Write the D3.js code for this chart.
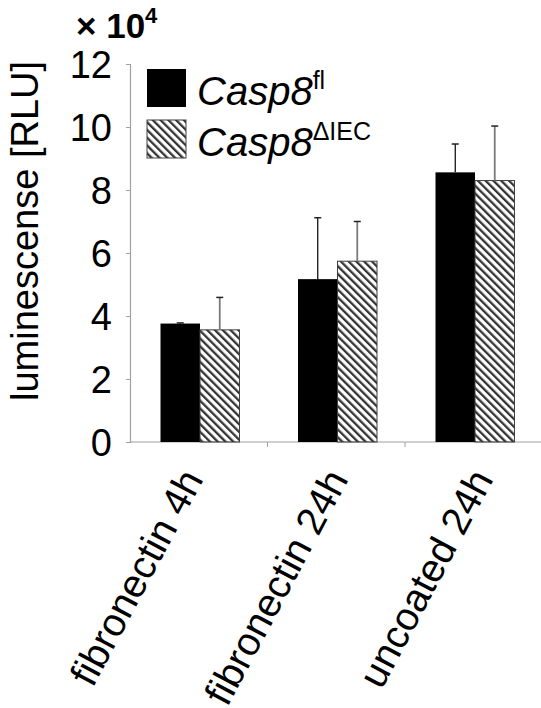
<!DOCTYPE html>
<html>
<head>
<meta charset="utf-8">
<script src="https://cdn.jsdelivr.net/npm/d3@7"></script>
<style>
  body { margin: 0; background: #fff; }
  text { font-family: "Liberation Sans", Arial, sans-serif; }
</style>
</head>
<body>
<div id="chart"></div>
<script>
// values (units of 10^4 RLU)
const categories = ["fibronectin 4h", "fibronectin 24h", "uncoated 24h"];
const seriesKeys = ["fl", "dIEC"];
const flValues = [3.76, 5.17, 8.56];
const flErrors = [0.02, 1.95, 0.90];
const iecValues = [3.56, 5.74, 8.30];
const iecErrors = [1.03, 1.26, 1.73];
const yTicks = [0, 2, 4, 6, 8, 10, 12];

// build rows for the bars
const rows = [];
categories.forEach((c, i) => {
    rows.push({cat: c, key: "fl", value: flValues[i], err: flErrors[i]});
    rows.push({cat: c, key: "dIEC", value: iecValues[i], err: iecErrors[i]});
});

const width = 541, height = 708;

const svg = d3.select("#chart").append("svg")
    .attr("width", width)
    .attr("height", height);

// hatch pattern for the second series (lines running top-left to bottom-right)
const defs = svg.append("defs");
defs.append("pattern")
    .attr("id", "hatch")
    .attr("patternUnits", "userSpaceOnUse")
    .attr("width", 5.5)
    .attr("height", 5.5)
    .attr("patternTransform", "rotate(-45)")
    .append("rect")
    .attr("x", 0).attr("y", 0)
    .attr("width", 2.3).attr("height", 5.5)
    .attr("fill", "#333");

// scales
const x0 = d3.scaleBand()
    .domain(categories)
    .range([130, 542.5])
    .padding(0);

const x1 = d3.scaleBand()
    .domain(seriesKeys)
    .range([30.5, 109.5])
    .padding(0);

// the rotated labels drift a bit right of the group centres
const xLabel = d3.scalePoint()
    .domain(categories)
    .range([204, 494]);

const y = d3.scaleLinear()
    .domain([0, 12])
    .range([442, 64]);

// y axis
const yAxis = svg.append("g")
    .attr("transform", "translate(130,0)")
    .call(d3.axisLeft(y).tickValues(yTicks).tickSize(4).tickPadding(14).tickFormat(d3.format("d")));
yAxis.select(".domain").attr("stroke", "#a0a0a0").attr("stroke-width", 1.2);
yAxis.selectAll(".tick line").attr("stroke", "#a0a0a0");
yAxis.selectAll(".tick text")
    .attr("font-size", 38)
    .attr("fill", "#000")
    .attr("dy", "0.36em")
    .style("font-family", "'Liberation Sans', Arial, sans-serif");

// x axis: ticks on the category boundaries
const xAxisG = svg.append("g").attr("transform", "translate(0,442)");
xAxisG.append("line")
    .attr("x1", 130).attr("x2", width)
    .attr("stroke", "#a0a0a0").attr("stroke-width", 1.2);
xAxisG.selectAll("line.tick")
    .data(categories)
    .enter()
    .append("line")
    .attr("class", "tick")
    .attr("x1", d => x0(d) + x0.bandwidth())
    .attr("x2", d => x0(d) + x0.bandwidth())
    .attr("y1", 0).attr("y2", 5)
    .attr("stroke", "#a0a0a0");

xAxisG.selectAll("text.cat")
    .data(categories)
    .enter()
    .append("text")
    .attr("class", "cat")
    .attr("text-anchor", "end")
    .attr("font-size", 39.5)
    .attr("transform", d => `translate(${xLabel(d)},37) rotate(-62)`)
    .text(d => d);

// bars
const bars = svg.append("g");
bars.selectAll("rect")
    .data(rows)
    .enter()
    .append("rect")
    .attr("x", d => x0(d.cat) + x1(d.key))
    .attr("y", d => y(d.value))
    .attr("width", x1.bandwidth())
    .attr("height", d => y(0) - y(d.value))
    .attr("fill", d => d.key === "fl" ? "#000" : "url(#hatch)")
    .attr("stroke", d => d.key === "fl" ? "none" : "#404040")
    .attr("stroke-width", 1);

// error bars (upper only)
const errs = svg.append("g");
errs.selectAll("line.stem")
    .data(rows)
    .enter()
    .append("line")
    .attr("class", "stem")
    .attr("x1", d => x0(d.cat) + x1(d.key) + x1.bandwidth() / 2)
    .attr("x2", d => x0(d.cat) + x1(d.key) + x1.bandwidth() / 2)
    .attr("y1", d => y(d.value))
    .attr("y2", d => y(d.value + d.err))
    .attr("stroke", d => d.key === "fl" ? "#000" : "#7a7a7a")
    .attr("stroke-width", d => d.key === "fl" ? 1.2 : 1.8);
errs.selectAll("line.cap")
    .data(rows)
    .enter()
    .append("line")
    .attr("class", "cap")
    .attr("x1", d => x0(d.cat) + x1(d.key) + x1.bandwidth() / 2 - 3.5)
    .attr("x2", d => x0(d.cat) + x1(d.key) + x1.bandwidth() / 2 + 3.5)
    .attr("y1", d => y(d.value + d.err))
    .attr("y2", d => y(d.value + d.err))
    .attr("stroke", "#222")
    .attr("stroke-width", 1.5);

// y label
svg.append("text")
    .attr("transform", "translate(38,231) rotate(-90)")
    .attr("text-anchor", "middle")
    .attr("font-size", 38)
    .text("luminescense [RLU]");

// multiplier
const mult = svg.append("text")
    .attr("x", 76)
    .attr("y", 38)
    .attr("font-size", 35)
    .attr("font-weight", "bold");
mult.append("tspan").text("× 10");
mult.append("tspan").attr("font-size", 22).attr("dy", -15).text("4");

// legend
const legend = svg.append("g");
const legendItems = [
    {key: "fl", sup: "fl", y: 69},
    {key: "dIEC", sup: "ΔIEC", y: 120}
];
legend.selectAll("rect")
    .data(legendItems)
    .enter()
    .append("rect")
    .attr("x", 147)
    .attr("y", d => d.y)
    .attr("width", 39)
    .attr("height", 38)
    .attr("fill", d => d.key === "fl" ? "#000" : "url(#hatch)")
    .attr("stroke", d => d.key === "fl" ? "none" : "#404040");

const lt = legend.selectAll("text")
    .data(legendItems)
    .enter()
    .append("text")
    .attr("x", 197)
    .attr("y", d => d.y + 36)
    .attr("font-size", 40);
lt.append("tspan").attr("font-style", "italic").text("Casp8");
lt.append("tspan").attr("font-size", 25).attr("dy", -16).text(d => d.sup);
</script>
</body>
</html>
